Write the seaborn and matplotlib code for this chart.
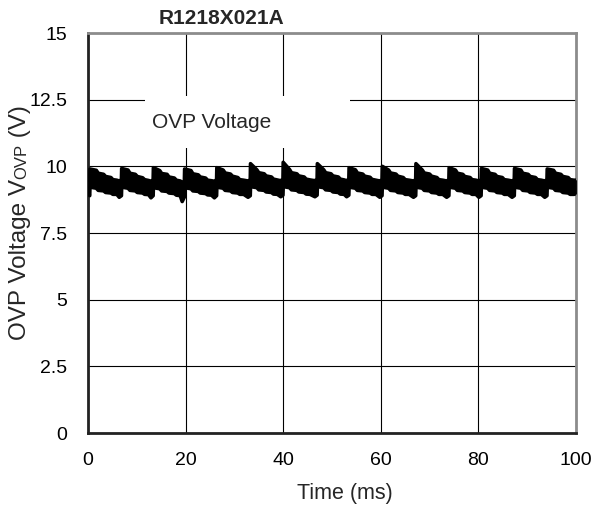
import matplotlib
matplotlib.use("Agg")
import matplotlib.pyplot as plt
import seaborn as sns
import pandas as pd
from matplotlib.patches import Rectangle

# ---- data: the trace is a dense band, ----
# ---- given here by its upper and lower edges                    ----
time_ms = [
    0.0, 0.35,
    0.4, 1.7, 2.1, 3.2, 3.6, 4.7, 5.1, 5.9, 6.4, 6.85,
    6.9, 8.2, 8.6, 9.7, 10.1, 11.2, 11.6, 12.4, 12.9, 13.35,
    13.4, 14.7, 15.1, 16.2, 16.6, 17.7, 18.1, 18.9, 19.3, 19.75,
    19.8, 21.1, 21.5, 22.6, 23.0, 24.1, 24.5, 25.3, 25.9, 26.35,
    26.4, 27.7, 28.1, 29.2, 29.6, 30.7, 31.1, 31.9, 32.8, 33.25,
    33.3, 34.6, 35.0, 36.1, 36.5, 37.6, 38.0, 38.8, 39.5, 39.95,
    40.0, 41.3, 41.7, 42.8, 43.2, 44.3, 44.7, 45.5, 46.5, 46.95,
    47.0, 48.3, 48.7, 49.8, 50.2, 51.3, 51.7, 52.5, 53.0, 53.45,
    53.5, 54.8, 55.2, 56.3, 56.7, 57.8, 58.2, 59.0, 59.8, 60.25,
    60.3, 61.6, 62.0, 63.1, 63.5, 64.6, 65.0, 65.8, 66.7, 67.15,
    67.2, 68.5, 68.9, 70.0, 70.4, 71.5, 71.9, 72.7, 73.5, 73.95,
    74.0, 75.3, 75.7, 76.8, 77.2, 78.3, 78.7, 79.5, 80.1, 80.55,
    80.6, 81.9, 82.3, 83.4, 83.8, 84.9, 85.3, 86.1, 86.9, 87.35,
    87.4, 88.7, 89.1, 90.2, 90.6, 91.7, 92.1, 92.9, 93.6, 94.05,
    94.1, 95.4, 95.8, 96.9, 97.3, 98.4, 98.8, 99.6, 100.0,
]
ovp_upper = [
    9.50, 9.48,
    9.90, 9.85, 9.74, 9.70, 9.62, 9.58, 9.50, 9.48, 9.45, 9.50,
    9.92, 9.86, 9.74, 9.70, 9.62, 9.57, 9.50, 9.47, 9.44, 9.50,
    9.95, 9.84, 9.73, 9.70, 9.60, 9.56, 9.48, 9.45, 9.40, 9.45,
    9.90, 9.84, 9.72, 9.68, 9.60, 9.56, 9.48, 9.46, 9.44, 9.50,
    9.95, 9.86, 9.75, 9.71, 9.63, 9.58, 9.50, 9.48, 9.45, 9.50,
    10.10, 9.87, 9.76, 9.72, 9.64, 9.60, 9.52, 9.49, 9.46, 9.52,
    10.15, 9.88, 9.76, 9.72, 9.64, 9.60, 9.52, 9.49, 9.46, 9.52,
    10.10, 9.87, 9.76, 9.72, 9.64, 9.60, 9.52, 9.49, 9.46, 9.52,
    9.95, 9.87, 9.75, 9.71, 9.63, 9.59, 9.51, 9.48, 9.45, 9.50,
    10.00, 9.86, 9.75, 9.71, 9.63, 9.58, 9.50, 9.48, 9.45, 9.50,
    10.10, 9.86, 9.75, 9.71, 9.63, 9.58, 9.50, 9.48, 9.45, 9.50,
    9.95, 9.86, 9.74, 9.70, 9.62, 9.58, 9.50, 9.48, 9.45, 9.50,
    9.92, 9.86, 9.74, 9.70, 9.62, 9.58, 9.50, 9.48, 9.45, 9.50,
    9.92, 9.86, 9.74, 9.70, 9.62, 9.58, 9.50, 9.48, 9.45, 9.50,
    9.90, 9.85, 9.74, 9.70, 9.62, 9.58, 9.50, 9.48, 9.48,
]
ovp_lower = [
    9.00, 8.90,
    9.22, 9.18, 9.10, 9.08, 9.02, 9.00, 8.95, 8.95, 8.84, 8.90,
    9.22, 9.18, 9.10, 9.08, 9.02, 9.00, 8.95, 8.94, 8.82, 8.90,
    9.20, 9.16, 9.08, 9.06, 9.00, 8.98, 8.92, 8.90, 8.68, 8.85,
    9.20, 9.16, 9.08, 9.06, 9.00, 8.98, 8.93, 8.92, 8.82, 8.90,
    9.22, 9.18, 9.10, 9.08, 9.02, 9.00, 8.95, 8.95, 8.84, 8.90,
    9.24, 9.20, 9.12, 9.10, 9.04, 9.02, 8.96, 8.95, 8.86, 8.92,
    9.24, 9.20, 9.12, 9.10, 9.04, 9.02, 8.96, 8.95, 8.86, 8.92,
    9.24, 9.20, 9.12, 9.10, 9.04, 9.02, 8.96, 8.95, 8.86, 8.92,
    9.22, 9.18, 9.10, 9.08, 9.02, 9.00, 8.95, 8.95, 8.84, 8.90,
    9.22, 9.18, 9.10, 9.08, 9.02, 9.00, 8.95, 8.95, 8.84, 8.90,
    9.22, 9.18, 9.10, 9.08, 9.02, 9.00, 8.95, 8.95, 8.84, 8.90,
    9.22, 9.18, 9.10, 9.08, 9.02, 9.00, 8.95, 8.95, 8.84, 8.90,
    9.22, 9.18, 9.10, 9.08, 9.02, 9.00, 8.95, 8.95, 8.84, 8.90,
    9.22, 9.18, 9.10, 9.08, 9.02, 9.00, 8.95, 8.95, 8.84, 8.90,
    9.22, 9.18, 9.10, 9.08, 9.02, 9.00, 8.95, 8.95, 8.98,
]
x_ticks = [0, 20, 40, 60, 80, 100]
y_ticks = [0, 2.5, 5, 7.5, 10, 12.5, 15]
y_tick_labels = ["0", "2.5", "5", "7.5", "10", "12.5", "15"]
title = "R1218X021A"
series_label = "OVP Voltage"

df = pd.DataFrame({"t": time_ms, "upper": ovp_upper, "lower": ovp_lower})

sns.set_theme(style="white")
plt.rcParams["font.family"] = ["Liberation Sans", "DejaVu Sans"]

W, H = 592, 509
fig = plt.figure(figsize=(W / 100, H / 100), dpi=100)
ax = fig.add_axes([88 / W, 1 - 433 / H, (576 - 88) / W, (433 - 33) / H])

ax.set_axisbelow(True)
ax.grid(True, color="black", linewidth=0.8, zorder=0)

ax.fill_between(df["t"], df["lower"], df["upper"], facecolor="black",
                edgecolor="black", linewidth=0.6, zorder=3)
for col in ["upper", "lower"]:
    sns.lineplot(data=df, x="t", y=col, ax=ax, color="black", linewidth=2.6,
                 estimator=None, sort=False, zorder=3,
                 solid_joinstyle="round", solid_capstyle="round")

ax.set_xlim(0, 100)
ax.set_ylim(0, 15)
ax.set_xticks(x_ticks)
ax.set_yticks(y_ticks)
ax.set_yticklabels(y_tick_labels)
ax.tick_params(axis="both", length=0, labelsize=14, colors="black")
ax.tick_params(axis="y", pad=15)
ax.tick_params(axis="x", pad=14)
ax.set_xlabel("")
ax.set_ylabel("")

for side in ["left", "bottom"]:
    ax.spines[side].set_color("#222222")
    ax.spines[side].set_linewidth(2.0)
for side in ["top", "right"]:
    ax.spines[side].set_color("#8c8c8c")
    ax.spines[side].set_linewidth(2.0)

# label box (legend-like)
ax.add_patch(Rectangle((11.7, 10.7), 42.0, 1.95, facecolor="white",
                       edgecolor="none", zorder=1))
ax.text(13.1, 11.45, series_label, fontsize=15, ha="left", va="baseline",
        zorder=2)

fig.text(222 / W, 1 - 18 / H, title, fontsize=15, fontweight="bold",
         ha="center", va="center")
fig.text(345 / W, 1 - 493 / H, "Time (ms)", fontsize=15.5,
         ha="center", va="center")

# y label with small "OVP"
fig.canvas.draw()
r = fig.canvas.get_renderer()
x0 = 26 / W
y = 1 - 340 / H
for txt, fs in [("OVP Voltage V", 17.5), ("OVP", 12), (" (V)", 17.5)]:
    t = fig.text(x0, y, txt, fontsize=fs, rotation=90, rotation_mode="anchor",
                 ha="left", va="baseline")
    bb = t.get_window_extent(r)
    y += bb.height / H

fig.savefig("out.png", dpi=100)
